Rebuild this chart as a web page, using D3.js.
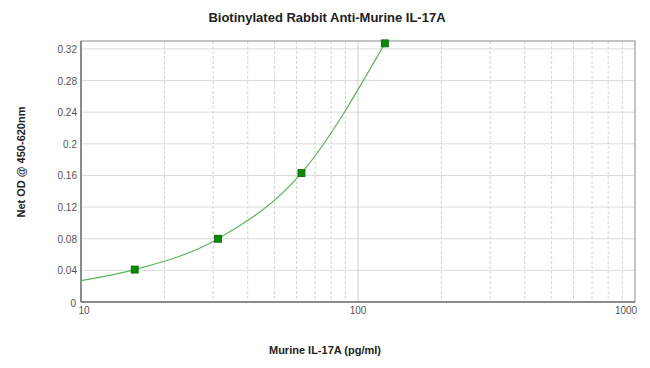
<!DOCTYPE html>
<html><head><meta charset="utf-8">
<script src="https://cdn.jsdelivr.net/npm/d3@7"></script>
<style>body{margin:0;background:#fff;font-family:"Liberation Sans",Arial,sans-serif;}</style>
</head><body><svg id="c" width="650" height="368"></svg>
<script>
const concentrations = [15.625, 31.25, 62.5, 125];
const odValues = [0.041, 0.080, 0.163, 0.327];
const curveX = [10, 15.625, 31.25, 62.5, 125];
const curveY = [0.027, 0.041, 0.080, 0.163, 0.327];
const yTicks = [0, 0.04, 0.08, 0.12, 0.16, 0.2, 0.24, 0.28, 0.32];
const xTickLabels = [10, 100, 1000];
const xMinor = [20,30,40,50,60,70,80,90,200,300,400,500,600,700,800,900];

const svg = d3.select("#c");
const L = 81, R = 635, T = 41, B = 302;
const x = d3.scaleLog().domain([10, 1000]).range([L, R]);
const y = d3.scaleLinear().domain([0, 0.33]).range([B, T]);

// horizontal gridlines
svg.append("g").selectAll("line").data(yTicks.slice(1)).join("line")
  .attr("x1", L).attr("x2", R).attr("y1", d => y(d)).attr("y2", d => y(d))
  .attr("stroke", "#dcdcdc").attr("stroke-width", 1);
// vertical minor gridlines
svg.append("g").selectAll("line").data(xMinor).join("line")
  .attr("x1", d => x(d)).attr("x2", d => x(d)).attr("y1", T).attr("y2", B)
  .attr("stroke", "#d4d4d4").attr("stroke-dasharray", "3,2").attr("stroke-width", 1);
svg.append("line").attr("x1", x(100)).attr("x2", x(100)).attr("y1", T).attr("y2", B)
  .attr("stroke", "#d0d0d0");

// border
svg.append("rect").attr("x", L).attr("y", T).attr("width", R - L).attr("height", B - T)
  .attr("fill", "none").attr("stroke", "#8a8a8a").attr("stroke-width", 1);
svg.append("line").attr("x1", L).attr("x2", L).attr("y1", T).attr("y2", B).attr("stroke", "#777").attr("stroke-width", 1.5);
svg.append("line").attr("x1", L).attr("x2", R).attr("y1", B).attr("y2", B).attr("stroke", "#777").attr("stroke-width", 1.5);

// y tick labels
svg.append("g").selectAll("text").data(yTicks).join("text")
  .attr("x", d => d === 0 ? 76 : 77).attr("y", d => y(d) + (d === 0 ? 5 : 4)).attr("text-anchor", "end")
  .attr("font-size", 10).attr("fill", "#555")
  .text(d => d === 0 ? "0" : d3.format("~g")(d));
// x tick labels
svg.append("g").selectAll("text").data(xTickLabels).join("text")
  .attr("x", d => d === 10 ? x(d) + 3 : d === 1000 ? x(d) - 9 : x(d))
  .attr("y", 314).attr("text-anchor", "middle")
  .attr("font-size", 10).attr("fill", "#555").text(d => d);

// curve
const pts = curveX.map((v, i) => [x(v), y(curveY[i])]);
svg.append("path").attr("d", d3.line().curve(d3.curveMonotoneX)(pts))
  .attr("fill", "none").attr("stroke", "#5fb35f").attr("stroke-width", 1.2);

// markers
svg.append("g").selectAll("rect").data(concentrations).join("rect")
  .attr("x", d => x(d) - 3.5).attr("y", (d, i) => y(odValues[i]) - 3.5)
  .attr("width", 7).attr("height", 7)
  .attr("fill", "#0a8a0a").attr("stroke", "#006400").attr("stroke-width", 0.8);

// titles
svg.append("text").attr("x", 327).attr("y", 22).attr("text-anchor", "middle")
  .attr("font-size", 13).attr("font-weight", "bold").attr("fill", "#222")
  .text("Biotinylated Rabbit Anti-Murine IL-17A");
svg.append("text").attr("x", 325).attr("y", 354).attr("text-anchor", "middle")
  .attr("font-size", 11).attr("font-weight", "bold").attr("fill", "#222")
  .text("Murine IL-17A (pg/ml)");
svg.append("text").attr("transform", "translate(25,162) rotate(-90)").attr("text-anchor", "middle")
  .attr("font-size", 11).attr("font-weight", "bold").attr("fill", "#222")
  .text("Net OD @ 450-620nm");
</script></body></html>
